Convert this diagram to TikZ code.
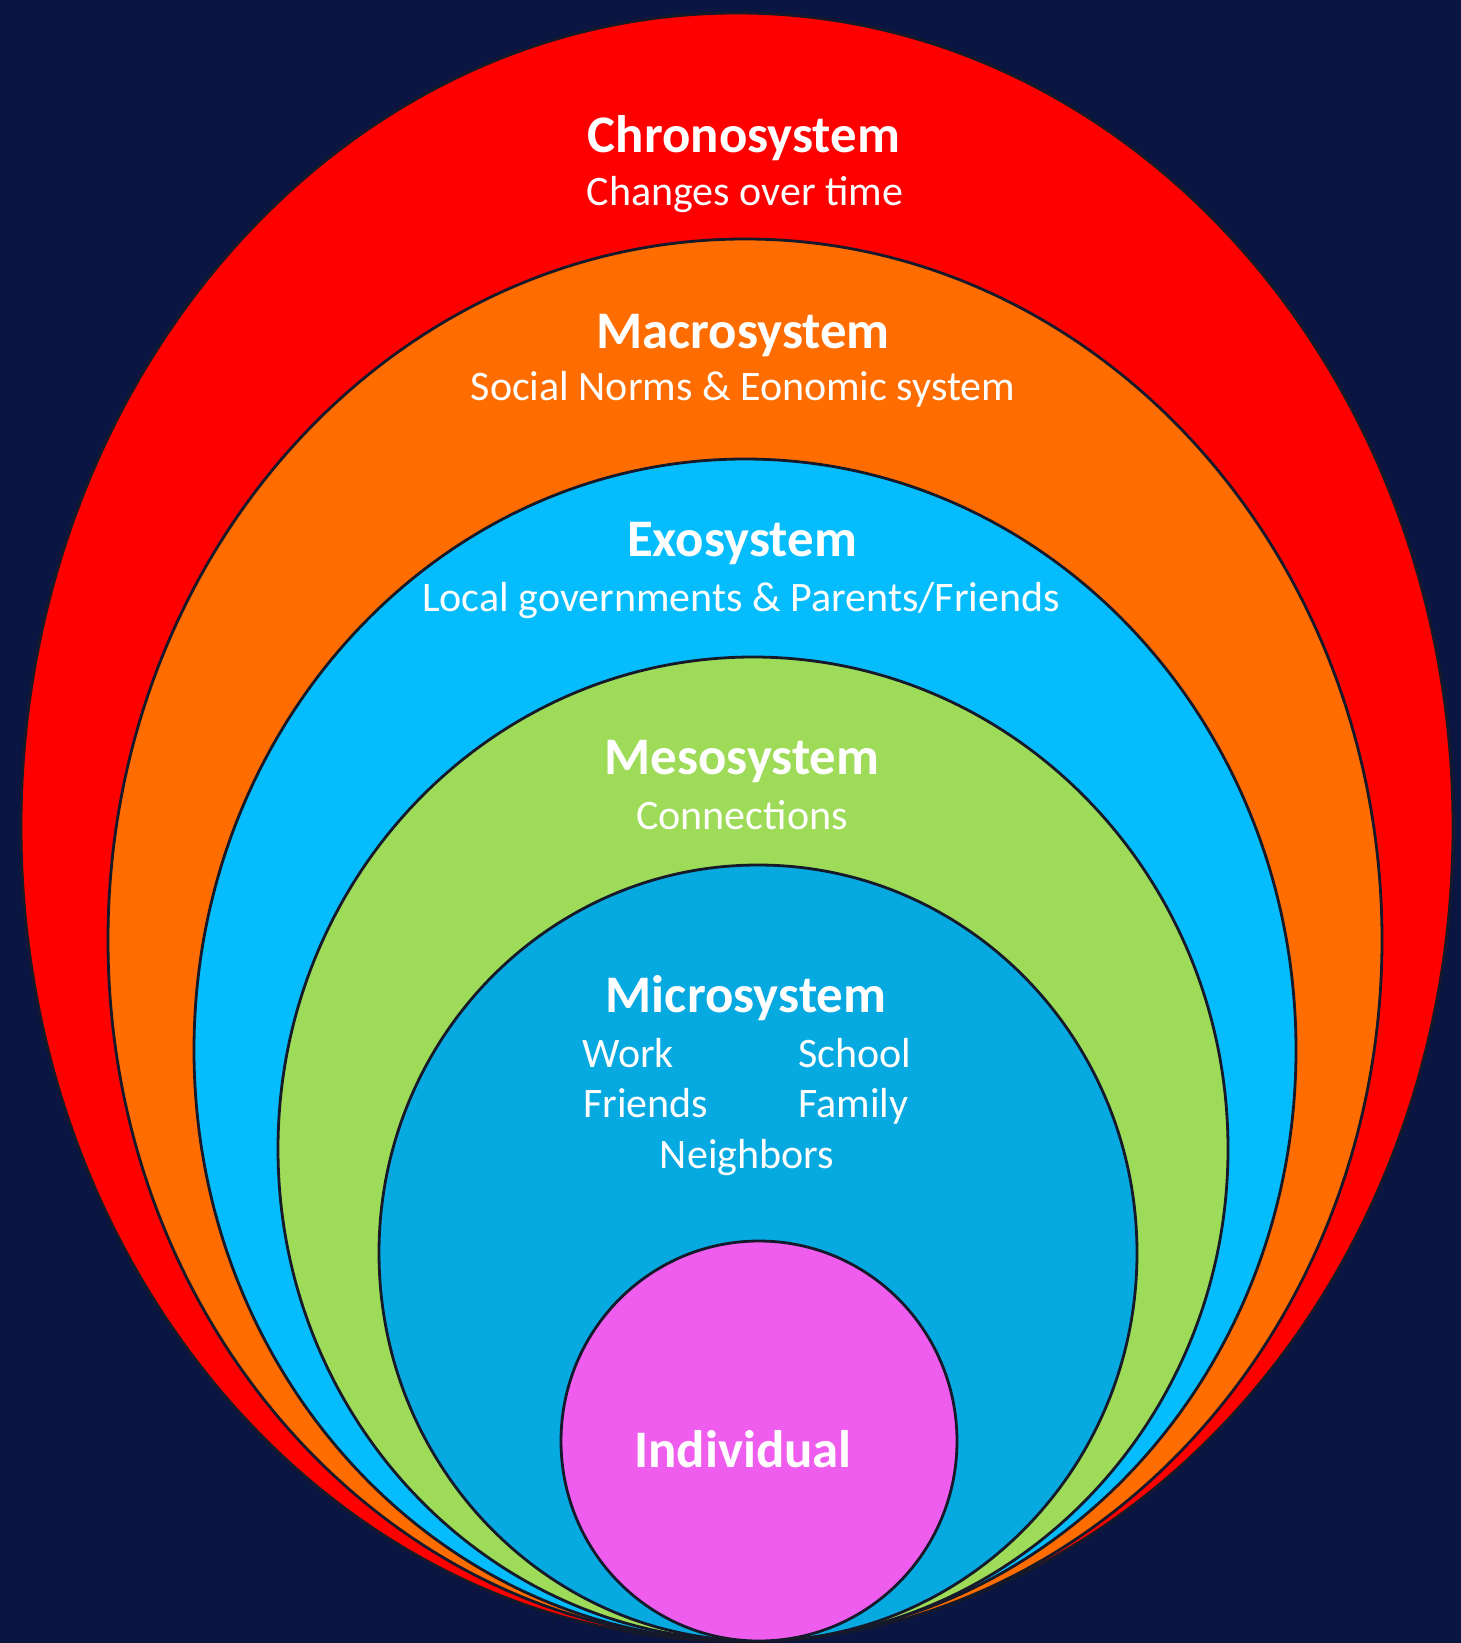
\documentclass[tikz,border=0pt]{standalone}
\usepackage{fontspec}
\setmainfont{Carlito}
\usepackage{tikz}
\definecolor{navy}{HTML}{0A1641}
\definecolor{chronored}{HTML}{FE0000}
\definecolor{macroorange}{HTML}{FF6D00}
\definecolor{exoblue}{HTML}{05BDFC}
\definecolor{mesogreen}{HTML}{9EDB58}
\definecolor{microblue}{HTML}{07A9E1}
\definecolor{indivpink}{HTML}{EF5DEE}
\definecolor{rim}{HTML}{15192A}
\tikzstyle{layer} = [draw=rim, line width=1.4pt]
\tikzstyle{title} = [text=white, font=\fontsize{26.4}{30}\selectfont\bfseries, anchor=base, inner sep=0pt]
\tikzstyle{sub} = [text=white, font=\fontsize{21}{25}\selectfont, anchor=base, inner sep=0pt]
\tikzstyle{item} = [sub, anchor=base west]

\begin{document}
\begin{tikzpicture}[x=0.5pt, y=-0.5pt]

% Background
\fill[navy] (0,0) rectangle (1461,1643);
\useasboundingbox (0,0) rectangle (1461,1643);

% Nested systems, outermost first
\draw[layer, fill=chronored] (737,827) ellipse [x radius=716, y radius=814];
\draw[layer, fill=macroorange] (745,940) ellipse [x radius=637, y radius=701];
\draw[layer, fill=exoblue] (745,1050) ellipse [x radius=551, y radius=591];
\draw[layer, fill=mesogreen] (753,1149) ellipse [x radius=475, y radius=492];
\draw[layer, fill=microblue] (758,1253) ellipse [x radius=379, y radius=388];
\draw[layer, fill=indivpink] (759,1441) ellipse [x radius=198, y radius=200];

% Labels
\node (chrono) [title] at (744,152) {Chronosystem};
\node (chrono_sub) [sub] at (745,205) {Changes over time};

\node (macro) [title] at (743,348) {Macrosystem};
\node (macro_sub) [sub] at (743,400) {Social Norms \& Eonomic system};

\node (exo) [title] at (742,556) {Exosystem};
\node (exo_sub) [sub] at (741,611) {Local governments \& Parents/Friends};

\node (meso) [title] at (742,774) {Mesosystem};
\node (meso_sub) [sub] at (742,829) {Connections};

\node (micro) [title] at (746,1012) {Microsystem};
\node (work) [item] at (582,1067) {Work};
\node (school) [item] at (798,1067) {School};
\node (friends) [item] at (583,1117) {Friends};
\node (family) [item] at (798,1117) {Family};
\node (neighbors) [sub] at (747,1168) {Neighbors};

\node (indiv) [title] at (743,1467) {Individual};

\end{tikzpicture}
\end{document}
